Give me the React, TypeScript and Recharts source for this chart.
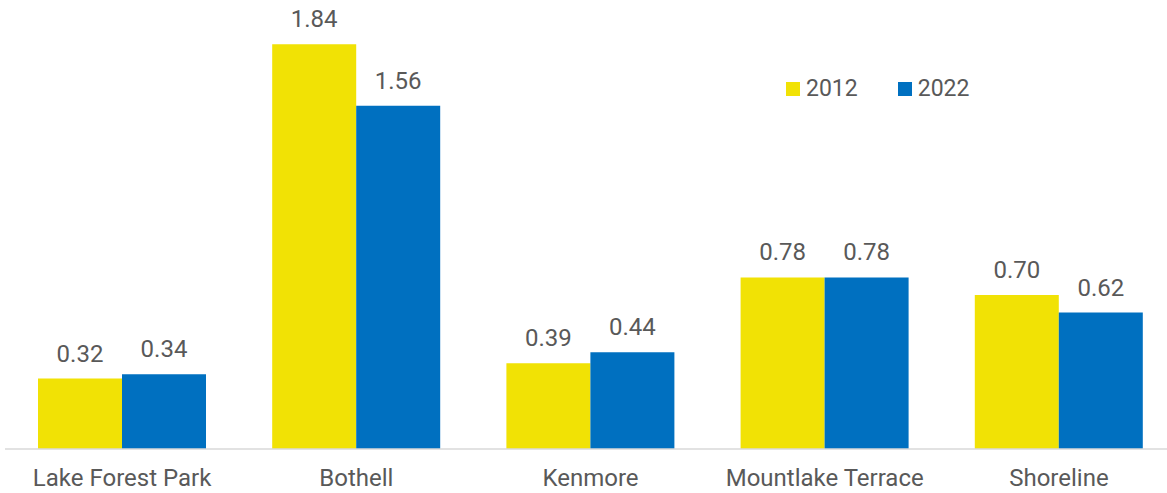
import React from 'react';
import { BarChart, Bar, XAxis, YAxis, LabelList } from 'recharts';

const categories = ['Lake Forest Park', 'Bothell', 'Kenmore', 'Mountlake Terrace', 'Shoreline'];
const values2012 = [0.32, 1.84, 0.39, 0.78, 0.7];
const values2022 = [0.34, 1.56, 0.44, 0.78, 0.62];
const seriesNames = ['2012', '2022'];

const data = categories.map((c, i) => ({ name: c, y2012: values2012[i], y2022: values2022[i] }));

const YELLOW = '#F1E205';
const BLUE = '#0070C0';
const TEXT = '#595959';
const FONT = 'Roboto, sans-serif';
const colors = [YELLOW, BLUE];

export default function App() {
  return (
    <div style={{ position: 'absolute', left: 0, top: 0, width: 1167, height: 493, overflow: 'hidden', background: '#fff' }}>
      <BarChart
        width={1180}
        height={493}
        data={data}
        margin={{ top: 9, right: 4, left: 5, bottom: 0 }}
        barCategoryGap={33}
        barGap={0}
      >
        <XAxis
          dataKey="name"
          axisLine={{ stroke: '#D9D9D9', strokeWidth: 1.5 }}
          tickLine={false}
          tickSize={0}
          tickMargin={20}
          height={44}
          interval={0}
          tick={{ fill: TEXT, fontSize: 24, fontFamily: FONT }}
        />
        <YAxis hide domain={[0, 2]} />
        <Bar dataKey="y2012" name="2012" fill={YELLOW} isAnimationActive={false}>
          <LabelList dataKey="y2012" position="top" offset={17} formatter={(v: any) => Number(v).toFixed(2)} style={{ fill: TEXT, fontSize: 24, fontFamily: FONT }} />
        </Bar>
        <Bar dataKey="y2022" name="2022" fill={BLUE} isAnimationActive={false}>
          <LabelList dataKey="y2022" position="top" offset={17} formatter={(v: any) => Number(v).toFixed(2)} style={{ fill: TEXT, fontSize: 24, fontFamily: FONT }} />
        </Bar>
      </BarChart>
      <div style={{ position: 'absolute', left: 786, top: 75, display: 'flex', alignItems: 'center', fontFamily: FONT, fontSize: 23, color: TEXT, lineHeight: '28px' }}>
        {seriesNames.map((n, i) => (
          <div key={n} style={{ display: 'flex', alignItems: 'center', marginRight: i === 0 ? 40 : 0 }}>
            <div style={{ width: 14, height: 14, background: colors[i], marginRight: 6 }} />
            <span>{n}</span>
          </div>
        ))}
      </div>
    </div>
  );
}
